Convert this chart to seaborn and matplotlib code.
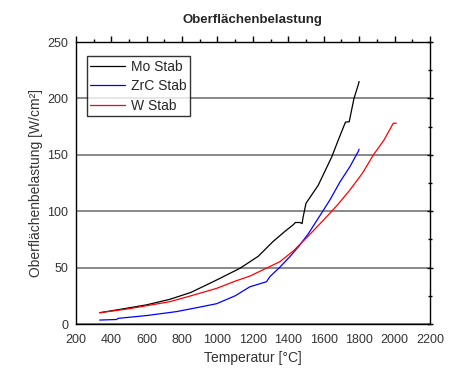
import numpy as np
import pandas as pd
import matplotlib
matplotlib.use("Agg")
import matplotlib.pyplot as plt
import seaborn as sns
from matplotlib.ticker import MultipleLocator

# Daten
mo_T = [335, 450, 600, 731, 850, 995, 1127, 1230, 1313, 1380, 1428, 1440, 1466, 1478, 1484, 1500, 1569, 1645, 1682, 1723, 1744, 1771, 1795, 1800]
mo_q = [10, 13, 17, 21.9, 28, 39, 49.4, 60, 73, 82, 88, 90, 90, 89, 95, 107, 123, 148, 163, 179, 179.3, 200, 212, 215]

zrc_T = [335, 430, 439, 600, 769, 900, 995, 1100, 1183, 1277, 1296, 1350, 1409, 1460, 1513, 1569, 1635, 1692, 1748, 1795, 1800]
zrc_q = [3.5, 4, 5, 7.5, 11, 15, 18, 25, 33, 37.5, 42, 50, 59.7, 69, 80, 93.7, 110, 126, 139.5, 153, 155]

w_T = [335, 500, 731, 850, 995, 1100, 1183, 1270, 1352, 1430, 1513, 1616, 1680, 1748, 1820, 1880, 1940, 1993, 2010]
w_q = [10, 13.5, 19.8, 25, 31.6, 38, 42.5, 49, 55.2, 65, 78, 95, 106, 118.8, 134, 149.8, 163, 178, 178]

df = pd.concat([
    pd.DataFrame({"T": mo_T, "q": mo_q, "Stab": "Mo Stab"}),
    pd.DataFrame({"T": zrc_T, "q": zrc_q, "Stab": "ZrC Stab"}),
    pd.DataFrame({"T": w_T, "q": w_q, "Stab": "W Stab"}),
])

sns.set_style("white")
plt.rcParams["font.family"] = ["Liberation Sans", "DejaVu Sans"]

fig = plt.figure(figsize=(4.54, 3.72), dpi=100)
ax = fig.add_axes([0.167, 0.129, 0.78, 0.758])

sns.lineplot(data=df, x="T", y="q", hue="Stab", sort=False, estimator=None,
             palette={"Mo Stab": "black", "ZrC Stab": "blue", "W Stab": "red"},
             linewidth=0.9, ax=ax)

ax.set_xlim(200, 2200)
ax.set_ylim(0, 250)
ax.xaxis.set_major_locator(MultipleLocator(200))
ax.xaxis.set_minor_locator(MultipleLocator(100))
ax.yaxis.set_major_locator(MultipleLocator(50))
ax.yaxis.set_minor_locator(MultipleLocator(25))
ax.yaxis.grid(True, which="major", color="#808080", linewidth=1.3)
ax.set_axisbelow(True)
ax.tick_params(which="both", top=True, right=True, direction="out", colors="black",
               labelcolor="#333333", labelsize=9)
ax.tick_params(axis="y", which="both", direction="inout")
ax.tick_params(which="major", length=4, width=1)
ax.tick_params(which="minor", length=2.5, width=1)
for s in ax.spines.values():
    s.set_color("black")
    s.set_linewidth(1.0)

ax.set_xlabel("Temperatur [°C]", fontsize=10, color="#333333", labelpad=3)
ax.set_ylabel("Oberflächenbelastung [W/cm²]", fontsize=10, color="#333333", labelpad=3)
ax.set_title("Oberflächenbelastung", fontsize=9.5, fontweight="bold", pad=14)

leg = ax.legend(loc="upper left", bbox_to_anchor=(0.012, 0.975), fontsize=10,
                frameon=True, fancybox=False, edgecolor="black", handlelength=2.5,
                borderpad=0.25, labelspacing=0.4, handletextpad=0.4)
leg.get_frame().set_linewidth(1.0)

fig.savefig("out.png", dpi=100)
